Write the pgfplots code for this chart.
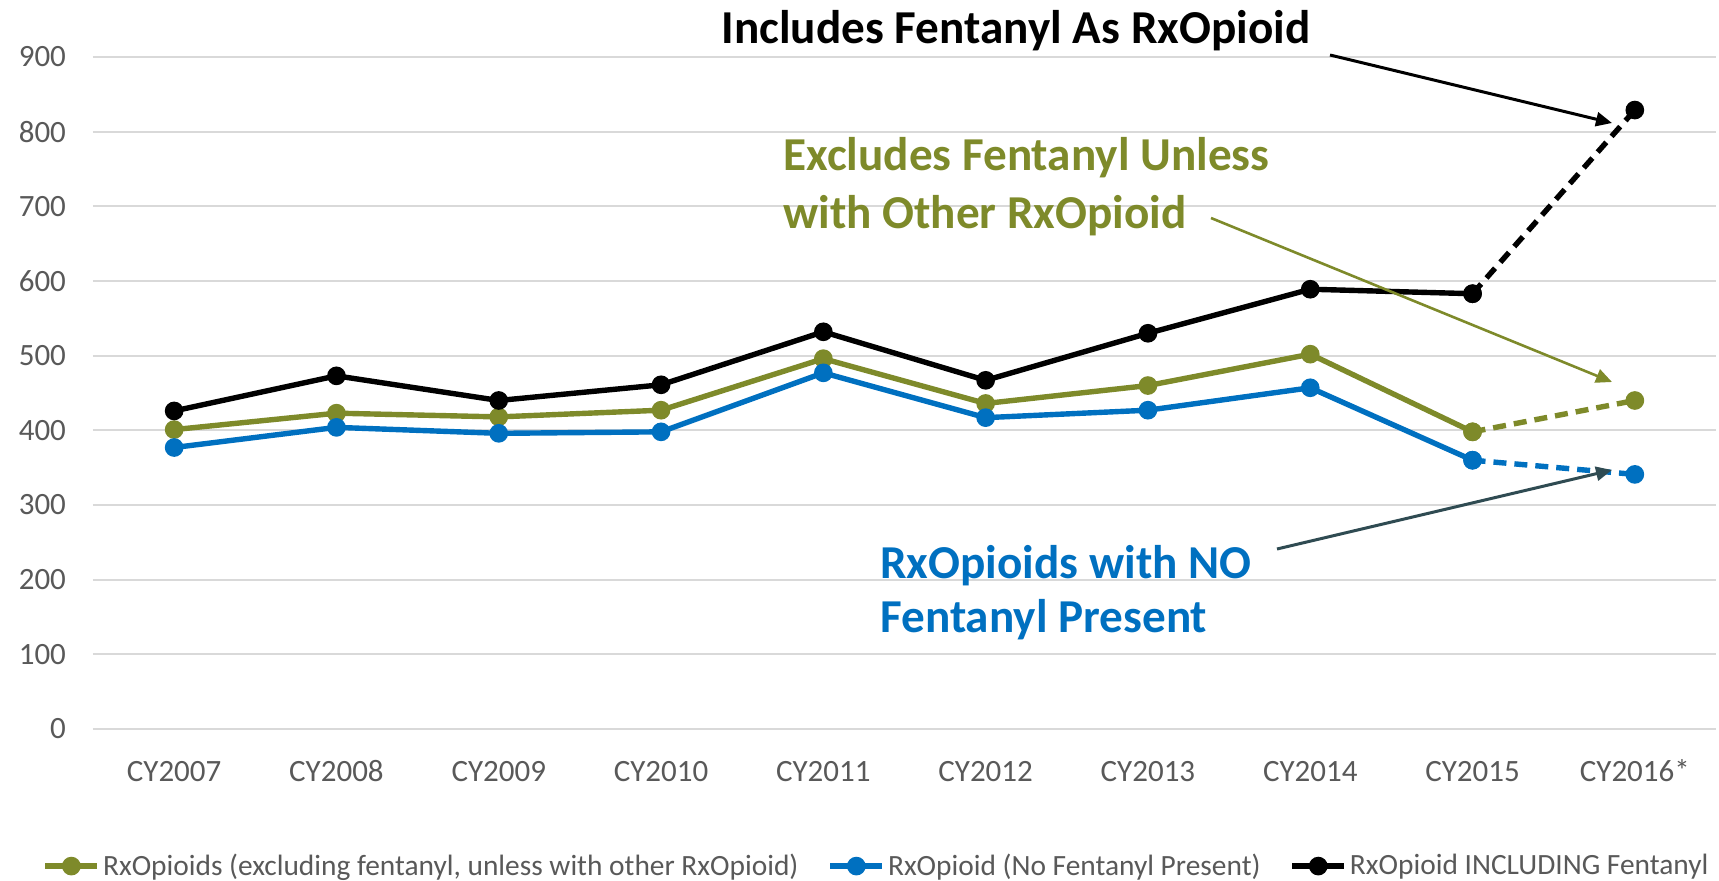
\documentclass[border=0pt]{standalone}
\usepackage{fontspec}
\setmainfont{Carlito}
\usepackage{pgfplots}
\pgfplotsset{compat=1.18}
\usetikzlibrary{arrows.meta}
\definecolor{olv}{HTML}{7E8A2A}
\definecolor{blu}{HTML}{0070C0}
\definecolor{darr}{HTML}{2F4B52}
\definecolor{grd}{HTML}{D9D9D9}
\definecolor{tck}{HTML}{595959}
\begin{document}
\begin{tikzpicture}
\path[use as bounding box] (-46.5pt,-75.5pt) rectangle (813pt,364.5pt);
\begin{axis}[
  at={(0pt,0pt)}, anchor=south west,
  width=811.5pt, height=336pt, scale only axis,
  xmin=-0.5, xmax=9.5, ymin=0, ymax=900,
  xtick={0,...,9},
  xticklabels={CY2007,CY2008,CY2009,CY2010,CY2011,CY2012,CY2013,CY2014,CY2015,CY2016*},
  ytick={0,100,...,900},
  ymajorgrids, grid style={grd, line width=1pt},
  axis line style={draw=none},
  major tick style={draw=none},
  /pgf/number format/assume math mode=true,
  tick label style={font=\fontsize{15.5}{18}\selectfont, text=tck},
  yticklabel style={xshift=-10pt},
  xticklabel style={anchor=base, yshift=-26pt},
  clip=false,
  legend columns=3,
  legend cell align=left,
  legend style={
    at={(axis description cs:-0.031,-0.204)}, anchor=west,
    draw=none, fill=none, inner sep=0pt, outer sep=0pt,
    font=\fontsize{14.7}{17}\selectfont, text=tck,
    /tikz/every even column/.append style={column sep=13pt},
    nodes={inner sep=1.5pt},
  },
  legend image code/.code={\draw[mark repeat=2,mark phase=2,#1] plot coordinates {(0pt,0pt)(13pt,0pt)(26pt,0pt)};},
  every axis plot/.append style={line width=2.7pt, mark=*, mark size=3.3pt, mark options={solid}},
]
\addplot[olv] coordinates {(0,401)(1,423)(2,418)(3,427)(4,496)(5,436)(6,460)(7,502)(8,398)};
\addlegendentry{RxOpioids (excluding fentanyl, unless with other RxOpioid)}
\addplot[blu] coordinates {(0,377)(1,404)(2,396)(3,398)(4,477)(5,417)(6,427)(7,457)(8,360)};
\addlegendentry{RxOpioid (No Fentanyl Present)}
\addplot[black] coordinates {(0,426)(1,473)(2,440)(3,461)(4,532)(5,467)(6,530)(7,589)(8,583)};
\addlegendentry{RxOpioid INCLUDING Fentanyl}
\addplot[olv, dash pattern=on 6.5pt off 4pt, forget plot] coordinates {(8,398)(9,440)};
\addplot[blu, dash pattern=on 6.5pt off 4pt, forget plot] coordinates {(8,360)(9,341)};
\addplot[black, dash pattern=on 6.5pt off 4pt, forget plot] coordinates {(8,583)(9,829)};
\end{axis}
\begin{scope}[font=\fontsize{23.6}{28}\selectfont\bfseries]
\node[anchor=base] at (461.5pt,342.5pt) {Includes Fentanyl As RxOpioid};
\node[anchor=base west, text=olv, inner sep=0pt] at (345pt,279.5pt) {Excludes Fentanyl Unless};
\node[anchor=base west, text=olv, inner sep=0pt] at (345pt,250.5pt) {with Other RxOpioid};
\node[anchor=base west, text=blu, inner sep=0pt] at (393.5pt,75.5pt) {RxOpioids with NO};
\node[anchor=base west, text=blu, inner sep=0pt] at (393.5pt,48.5pt) {Fentanyl Present};
\end{scope}
\draw[black, line width=1.5pt, -{Triangle[length=8pt,width=7pt]}] (618.5pt,337pt) -- (759.5pt,303pt);
\draw[olv, line width=1.3pt, -{Triangle[length=8pt,width=7pt]}] (559pt,255.5pt) -- (759.5pt,173.5pt);
\draw[darr, line width=1.5pt, -{Triangle[length=8pt,width=7pt]}] (592pt,90pt) -- (759.5pt,129.5pt);
\end{tikzpicture}
\end{document}
